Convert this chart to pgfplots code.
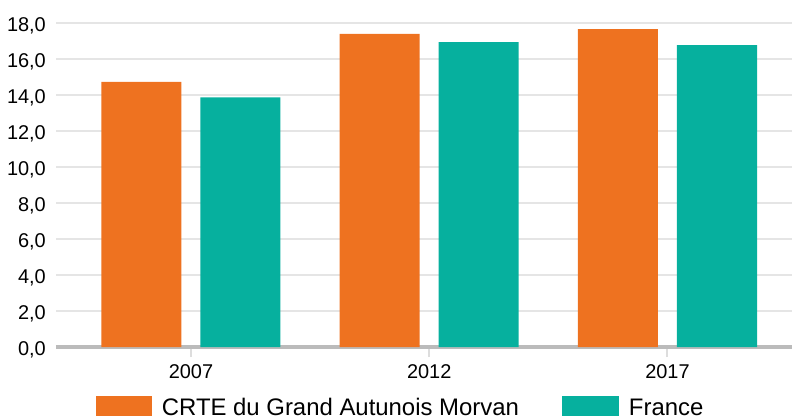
\documentclass[border=0pt]{standalone}
\usepackage{fontspec}
\setmainfont{Liberation Sans}
\usepackage{pgfplots}
\pgfplotsset{compat=1.18}
\definecolor{corange}{HTML}{EE7220}
\definecolor{cteal}{HTML}{06B09E}
\definecolor{cgrid}{HTML}{E5E5E5}
\definecolor{caxis}{HTML}{BBBBBB}
\definecolor{ctick}{HTML}{DDDDDD}
\begin{document}
\begin{tikzpicture}
\begin{axis}[name=ax, scale only axis, width=736bp, height=323.5bp,
  xmin=-0.5666, xmax=2.5226, ymin=0, ymax=18,
  xtick={0,1,2}, xticklabels={2007,2012,2017},
  ytick={0,2,4,6,8,10,12,14,16,18},
  ybar, bar width=80bp,
  axis lines*=left,
  axis line style={-},
  x axis line style={draw=caxis, line width=4.5bp, -},
  y axis line style={draw=none},
  ymajorgrids,
  major grid style={draw=cgrid, line width=2bp},
  tick align=outside,
  major tick length=10bp,
  xtick style={draw=ctick, line width=2bp},
  ytick style={draw=none},
  tick label style={font=\fontsize{20}{24}\selectfont},
  yticklabel style={/pgf/number format/.cd, fixed, fixed zerofill, precision=1, use comma, assume math mode=true, /tikz/.cd, anchor=base east, inner sep=0pt, xshift=0bp, yshift=-8bp},
  xticklabel style={anchor=base, inner sep=0pt, yshift=-21.7bp},
  legend columns=2,
  legend cell align=left,
  legend style={at={(0.4669,0)}, anchor=south, yshift=-70bp, draw=none, fill=none,
    inner sep=0pt, outer sep=0pt, font=\fontsize{24}{28}\selectfont,
    /tikz/every even column/.append style={column sep=43bp},
    /tikz/every odd column/.append style={column sep=10bp},
    nodes={inner sep=0pt}},
]
\addplot[fill=corange, draw=none, bar shift=-49.5bp,
  legend image code/.code={\fill[corange] (0bp,-8.6bp) rectangle (56bp,11.4bp);}]
  coordinates {(0,14.75) (1,17.42) (2,17.69)};
\addplot[fill=cteal, draw=none, bar shift=49.5bp,
  legend image code/.code={\fill[cteal] (0bp,-8.6bp) rectangle (57bp,11.4bp);}]
  coordinates {(0,13.89) (1,16.97) (2,16.80)};
\legend{CRTE du Grand Autunois Morvan, France}
\end{axis}
\pgfresetboundingbox
\path[use as bounding box] ([xshift=-56bp,yshift=-72bp]ax.south west) rectangle ([yshift=23.5bp]ax.north east);
\end{tikzpicture}
\end{document}
